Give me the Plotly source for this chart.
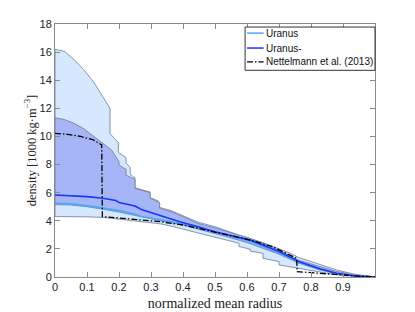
import plotly.graph_objects as go

# ---------------- data ----------------
# Light band (Uranus range): upper and lower boundaries
r_light_up = [0, 0.03, 0.06, 0.09, 0.12, 0.15, 0.172, 0.172, 0.198, 0.198, 0.219, 0.222, 0.222, 0.235,
              0.235, 0.25, 0.25, 0.285, 0.297, 0.297, 0.322, 0.327, 0.363, 0.40, 0.447, 0.50, 0.578,
              0.65, 0.734, 0.76, 0.82, 0.88, 0.94, 1.0]
light_up = [16.2, 16.05, 15.45, 14.75, 13.9, 12.8, 12.0, 10.2, 9.55, 8.85, 8.55, 8.5, 8.1, 7.8,
            7.3, 7.05, 6.35, 6.12, 6.05, 5.65, 5.42, 4.95, 4.72, 4.36, 3.9, 3.58, 2.95,
            2.45, 1.7, 1.4, 0.95, 0.5, 0.18, 0.0]
r_light_lo = [0, 0.05, 0.10, 0.15, 0.20, 0.27, 0.33, 0.37, 0.42, 0.47, 0.52, 0.565, 0.575, 0.575,
              0.61, 0.61, 0.65, 0.65, 0.70, 0.70, 0.755, 0.80, 0.85, 0.90, 0.95, 1.0]
light_lo = [4.3, 4.3, 4.28, 4.24, 4.13, 3.93, 3.78, 3.58, 3.3, 3.0, 2.72, 2.45, 2.4, 2.17,
            1.98, 1.85, 1.68, 1.33, 1.1, 0.86, 0.62, 0.45, 0.27, 0.1, 0.03, 0.0]

# Dark band (Uranus- range): upper and lower boundaries
r_dark_up = [0, 0.03, 0.06, 0.09, 0.11, 0.15, 0.177, 0.20, 0.20, 0.222, 0.222, 0.245, 0.25, 0.25,
             0.285, 0.297, 0.297, 0.322, 0.327, 0.327, 0.363, 0.40, 0.447, 0.505, 0.557, 0.61,
             0.68, 0.76, 0.82, 0.88, 0.94, 1.0]
dark_up = [11.33, 11.2, 10.93, 10.55, 10.2, 9.5, 9.03, 8.2, 7.97, 7.66, 7.25, 7.0, 6.95, 6.3,
           6.07, 6.0, 5.6, 5.36, 5.3, 4.88, 4.65, 4.29, 3.81, 3.46, 3.11, 2.75,
           2.1, 1.21, 0.8, 0.4, 0.12, 0.0]
r_dark_lo = [0, 0.05, 0.10, 0.15, 0.20, 0.25, 0.33, 0.40, 0.47, 0.55, 0.60, 0.65, 0.70, 0.76,
             0.82, 0.88, 0.94, 1.0]
dark_lo = [5.15, 5.12, 5.0, 4.82, 4.62, 4.4, 4.0, 3.7, 3.28, 2.78, 2.45, 2.05, 1.62, 1.0,
           0.55, 0.22, 0.05, 0.0]

# Central profiles
r_uranus = [0, 0.05, 0.10, 0.15, 0.20, 0.25, 0.27, 0.33, 0.40, 0.47, 0.55, 0.61, 0.70, 0.766,
            0.83, 0.88, 0.94, 1.0]
uranus = [5.24, 5.2, 5.08, 4.9, 4.72, 4.47, 4.3, 4.07, 3.77, 3.36, 2.87, 2.52, 1.72, 1.02,
          0.56, 0.27, 0.07, 0.0]
r_uranus_m = [0, 0.05, 0.10, 0.15, 0.19, 0.20, 0.25, 0.27, 0.33, 0.39, 0.45, 0.50, 0.61, 0.70,
              0.766, 0.83, 0.88, 0.94, 1.0]
uranus_m = [5.83, 5.8, 5.72, 5.6, 5.45, 5.3, 5.05, 4.8, 4.35, 3.93, 3.55, 3.22, 2.63, 1.82,
            1.06, 0.57, 0.27, 0.07, 0.0]
r_nettel = [0, 0.04, 0.08, 0.12, 0.146, 0.148, 0.20, 0.27, 0.33, 0.40, 0.47, 0.54, 0.61, 0.68,
            0.755, 0.757, 0.83, 0.89, 0.95, 1.0]
nettel = [10.22, 10.15, 10.0, 9.75, 9.4, 4.3, 4.2, 4.05, 3.93, 3.7, 3.34, 2.98, 2.63, 2.16,
          1.33, 0.38, 0.26, 0.14, 0.06, 0.02]

x_ticks = [0, 0.1, 0.2, 0.3, 0.4, 0.5, 0.6, 0.7, 0.8, 0.9]
y_ticks = [0, 2, 4, 6, 8, 10, 12, 14, 16, 18]

legend_names = ["Uranus", "Uranus-", "Nettelmann et al. (2013)"]
legend_colors = ["#4aa8ff", "#1a35ff", "black"]
legend_dashes = ["solid", "solid", "6px,2px,1.5px,2px"]

# ---------------- figure ----------------
fig = go.Figure()

edge = "#6d7b96"

def band(r_up, up, r_lo, lo, fill):
    xs = list(r_up) + list(r_lo)[::-1] + [r_up[0]]
    ys = list(up) + list(lo)[::-1] + [up[0]]
    return go.Scatter(x=xs, y=ys, mode="lines", fill="toself", fillcolor=fill,
                      line=dict(color=edge, width=0.8), showlegend=False, hoverinfo="skip")

fig.add_trace(band(r_light_up, light_up, r_light_lo, light_lo, "#d6e8fd"))
fig.add_trace(band(r_dark_up, dark_up, r_dark_lo, dark_lo, "#a6b5f5"))

fig.add_trace(go.Scatter(x=r_uranus, y=uranus, mode="lines", name=legend_names[0],
                         line=dict(color=legend_colors[0], width=1.6), showlegend=False))
fig.add_trace(go.Scatter(x=r_uranus_m, y=uranus_m, mode="lines", name=legend_names[1],
                         line=dict(color=legend_colors[1], width=1.6), showlegend=False))
fig.add_trace(go.Scatter(x=r_nettel, y=nettel, mode="lines", name=legend_names[2],
                         line=dict(color=legend_colors[2], width=1.3, dash=legend_dashes[2]),
                         showlegend=False))

# compact MATLAB-style legend box (paper coordinates)
lx0, lx1, ly0, ly1 = 0.594, 1.0, 0.817, 0.988
fig.add_shape(type="rect", xref="paper", yref="paper", x0=lx0, x1=lx1, y0=ly0, y1=ly1,
              line=dict(color="#333", width=1), fillcolor="white", layer="above")
row_y = [0.964, 0.905, 0.850]
for name, col, dsh, yy in zip(legend_names, legend_colors, legend_dashes, row_y):
    fig.add_shape(type="line", xref="paper", yref="paper", x0=lx0 + 0.006, x1=lx0 + 0.058,
                  y0=yy, y1=yy, line=dict(color=col, width=1.5 if col != "black" else 1.2, dash=dsh),
                  layer="above")
    fig.add_annotation(x=lx0 + 0.06, y=yy, xref="paper", yref="paper", text=name,
                       showarrow=False, xanchor="left", yanchor="middle",
                       font=dict(family="Liberation Sans, Arial", size=10, color="#111"))

axis_common = dict(showline=True, linecolor="#8a8a8a", linewidth=1, mirror="allticks",
                   ticks="inside", ticklen=5, tickcolor="#8a8a8a", showgrid=False,
                   zeroline=False, automargin=False,
                   tickfont=dict(family="Liberation Sans, Arial", size=11, color="#222"))

fig.update_xaxes(range=[0, 1], tickvals=x_ticks, ticktext=[str(t) for t in x_ticks],
                 title=dict(text="normalized mean radius",
                            font=dict(family="Liberation Serif, serif", size=14, color="#222"),
                            standoff=5),
                 **axis_common)
fig.update_yaxes(range=[0, 18], tickvals=y_ticks,
                 title=dict(text="density [1000 kg·m<sup>−3</sup>]",
                            font=dict(family="Liberation Serif, serif", size=12.5, color="#222"),
                            standoff=0),
                 **axis_common)

# page body adds an 8 px offset; figure size/margins compensate for it
fig.update_layout(
    width=407, height=304,
    margin=dict(l=47, r=40, t=16, b=35),
    paper_bgcolor="white", plot_bgcolor="white",
    showlegend=False,
)

fig.write_html("out.html")
